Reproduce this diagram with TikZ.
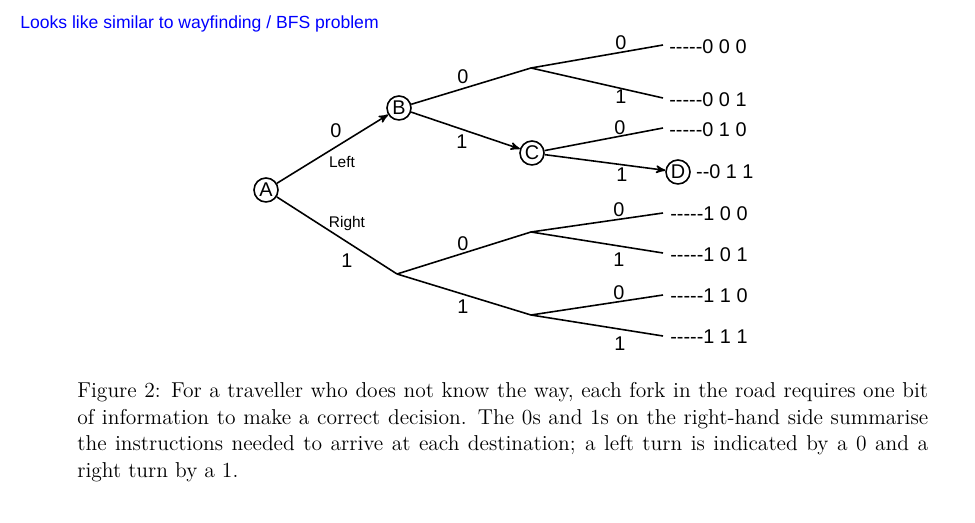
\documentclass[tikz,border=0pt]{standalone}
\usepackage{fontspec}
\newfontfamily\arial{Liberation Sans}
\usetikzlibrary{arrows,positioning}
\newcommand{\diagfont}{\arial\fontsize{11.3}{13.5}\selectfont}
\newcommand{\turnfont}{\arial\fontsize{8.8}{10.5}\selectfont}
\tikzstyle{state} = [circle, draw, line width=0.9pt, minimum size=0.48cm, inner sep=0pt, font=\diagfont]
\tikzstyle{bit} = [inner sep=0pt, font=\diagfont]
\tikzstyle{turn} = [inner sep=0pt, font=\turnfont]
\tikzstyle{leaf} = [anchor=west, inner sep=0pt, font=\diagfont]
\tikzstyle{edge} = [draw, line width=0.9pt]
\tikzstyle{line} = [draw, line width=0.9pt, -stealth']

\begin{document}
\begin{tikzpicture}[x=0.02cm, y=-0.02cm]
    \useasboundingbox (0,0) rectangle (975,523);
    \node [anchor=base west, inner sep=0pt, text=blue, font=\arial\fontsize{10}{12}\selectfont] (note) at (20,29) {Looks like similar to wayfinding / BFS problem};
    % states
    \node [state] (A) at (266,190) {A};
    \node [state] (B) at (399,108) {B};
    \node [state] (C) at (532,153) {C};
    \node [state] (D) at (678,172) {D};
    % forks and ends
    \coordinate (fB0) at (531,68);
    \coordinate (fR) at (397,274);
    \coordinate (fR0) at (531,232);
    \coordinate (fR1) at (531,315);
    \coordinate (e000) at (663,45);
    \coordinate (e001) at (663,98);
    \coordinate (e010) at (663,128);
    \coordinate (e100) at (663,213);
    \coordinate (e101) at (663,253);
    \coordinate (e110) at (663,295);
    \coordinate (e111) at (663,336);
    % codes
    \node [leaf] (c000) at (669,47) {-----0 0 0};
    \node [leaf] (c001) at (669,100) {-----0 0 1};
    \node [leaf] (c010) at (669,130) {-----0 1 0};
    \node [leaf, right=0.1cm of D] (c011) {--0 1 1};
    \node [leaf] (c100) at (670,214) {-----1 0 0};
    \node [leaf] (c101) at (670,255) {-----1 0 1};
    \node [leaf] (c110) at (670,296) {-----1 1 0};
    \node [leaf] (c111) at (670,337) {-----1 1 1};
    % bits on the roads
    \node [bit] (bAB) at (336,131) {0};
    \node [turn] (left) at (342,162) {Left};
    \node [turn] (right) at (347,224) {Right};
    \node [bit] (bAR) at (347,261) {1};
    \node [bit] (bB0) at (463,77) {0};
    \node [bit] (bB1) at (462,142) {1};
    \node [bit] (bR0) at (463,244) {0};
    \node [bit] (bR1) at (463,307) {1};
    \node [bit] (b000) at (621,43) {0};
    \node [bit] (b001) at (621,97) {1};
    \node [bit] (b010) at (620,128) {0};
    \node [bit] (b011) at (622,175) {1};
    \node [bit] (b100) at (619,210) {0};
    \node [bit] (b101) at (619,260) {1};
    \node [bit] (b110) at (619,293) {0};
    \node [bit] (b111) at (620,344) {1};
    % caption
    \node [anchor=north west, inner sep=0pt, text width=17.02cm, align=justify, font=\fontsize{12.25}{15.1}\selectfont] (caption) at (77,382) {Figure 2: For a traveller who does not know the way, each fork in the road requires one bit\linebreak of information to make a correct decision. The 0s and 1s on the right-hand side summarise\linebreak the instructions needed to arrive at each destination; a left turn is indicated by a 0 and a\linebreak right turn by a 1.};
    \path [line] (A) -- (B);
    \path [edge] (A) -- (fR);
    \path [edge] (B) -- (fB0);
    \path [line] (B) -- (C);
    \path [edge] (fB0) -- (e000);
    \path [edge] (fB0) -- (e001);
    \path [edge] (C) -- (e010);
    \path [line] (C) -- (D);
    \path [edge] (fR) -- (fR0);
    \path [edge] (fR) -- (fR1);
    \path [edge] (fR0) -- (e100);
    \path [edge] (fR0) -- (e101);
    \path [edge] (fR1) -- (e110);
    \path [edge] (fR1) -- (e111);
\end{tikzpicture}
\end{document}
